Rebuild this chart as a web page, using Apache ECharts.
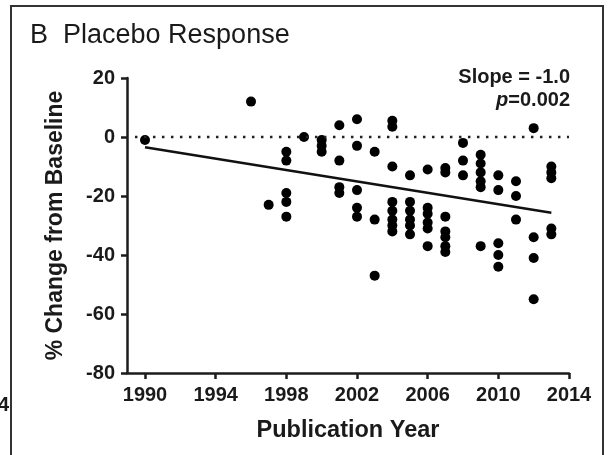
<!DOCTYPE html>
<html>
<head>
<meta charset="utf-8">
<script src="https://cdn.jsdelivr.net/npm/echarts@6/dist/echarts.min.js"></script>
<style>
html,body{margin:0;padding:0;background:#fff;}
#c{width:609px;height:455px;}
</style>
</head>
<body>
<div id="c"></div>
<script>
// ---- data ----
const years = [
  1990,
  1996,
  1997,
  1998,1998,1998,1998,1998,
  1999,
  2000,2000,2000,
  2001,2001,2001,2001,
  2002,2002,2002,2002,2002,
  2003,2003,2003,
  2004,2004,2004,2004,2004,2004,2004,2004,
  2005,2005,2005,2005,2005,2005,
  2006,2006,2006,2006,2006,2006,
  2007,2007,2007,2007,2007,2007,2007,
  2008,2008,2008,
  2009,2009,2009,2009,2009,2009,
  2010,2010,2010,2010,2010,
  2011,2011,2011,
  2012,2012,2012,2012,
  2013,2013,2013,2013,2013
];
const changes = [
  -1,
  12,
  -23,
  -5,-8,-19,-22,-27,
  0,
  -1,-3,-5,
  4,-8,-17,-19,
  6,-3,-18,-24,-27,
  -5,-28,-47,
  5.5,3.5,-10,-22,-25,-28,-30,-32,
  -13,-22,-25,-28,-30,-33,
  -11,-24,-26,-29,-31,-37,
  -10.5,-12,-27,-32,-34,-37,-39,
  -2,-8,-13,
  -6,-9,-12,-15,-17,-37,
  -13,-18,-36,-40,-44,
  -15,-20,-28,
  3,-34,-41,-55,
  -10,-12,-14,-31,-33
];
const fitYears = [1990, 2013];
const fitValues = [-3.5, -25.7];
const xTickMin = 1990, xTickMax = 2014, xTickStep = 4;
const yMin = -80, yMax = 20, yStep = 20;
const titleText = 'B  Placebo Response';
const slopeText = 'Slope = -1.0';
const pText = '0.002';

// ---- chart ----
const chart = echarts.init(document.getElementById('c'), null, {renderer:'canvas'});
const axisColor = '#1c1c1c';
const fontFam = '"Liberation Sans", Arial, sans-serif';

const scatterData = years.map((y,i)=>[y, changes[i]]);
const fitData = fitYears.map((y,i)=>[y, fitValues[i]]);

chart.setOption({
  animation:false,
  backgroundColor:'#fff',
  grid:[
    {left:127, right:40, top:78, bottom:82},
    {left:145, right:40, top:78, bottom:82}
  ],
  xAxis:[
    {gridIndex:0, type:'value', min:1989, max:xTickMax,
     axisLine:{show:true, onZero:false, lineStyle:{color:axisColor, width:2.5}},
     axisTick:{show:false}, axisLabel:{show:false}, splitLine:{show:false},
     name:'Publication Year', nameLocation:'middle', nameGap:46,
     nameTextStyle:{fontFamily:fontFam, fontWeight:'bold', fontSize:23.5, color:'#1a1a1a'}},
    {gridIndex:1, type:'value', min:xTickMin, max:xTickMax, interval:xTickStep,
     axisLine:{show:false, onZero:false},
     axisTick:{show:true, inside:false, length:6, lineStyle:{color:axisColor, width:2.5}},
     axisLabel:{show:true, margin:12, fontFamily:fontFam, fontWeight:'bold', fontSize:20, color:'#1a1a1a',
       formatter:(v)=>String(v)},
     splitLine:{show:false}}
  ],
  yAxis:[
    {gridIndex:0, type:'value', min:yMin, max:yMax, interval:yStep,
     axisLine:{show:true, onZero:false, lineStyle:{color:axisColor, width:2.5}},
     axisTick:{show:true, inside:false, length:6, lineStyle:{color:axisColor, width:2.5}},
     axisLabel:{show:true, margin:12, fontFamily:fontFam, fontWeight:'bold', fontSize:20, color:'#1a1a1a'},
     splitLine:{show:false},
     name:'% Change from Baseline', nameLocation:'middle', nameGap:60,
     nameTextStyle:{fontFamily:fontFam, fontWeight:'bold', fontSize:23, color:'#1a1a1a'}},
    {gridIndex:1, type:'value', min:yMin, max:yMax, interval:yStep, show:false}
  ],
  series:[
    {type:'line', xAxisIndex:0, yAxisIndex:0, data:[[1989.45,0],[xTickMax,0]],
     symbol:'none', silent:true,
     lineStyle:{color:'#222', width:2.5, type:[2.5,6.5]}},
    {type:'line', xAxisIndex:1, yAxisIndex:1, data:fitData, symbol:'none',
     lineStyle:{color:'#111', width:2.5}},
    {type:'scatter', xAxisIndex:1, yAxisIndex:1, data:scatterData, symbolSize:10,
     clip:false, itemStyle:{color:'#000', opacity:1}}
  ],
  graphic:[
    {type:'rect', shape:{x:11, y:6, width:592, height:470},
     style:{fill:null, stroke:'#333', lineWidth:2}, silent:true},
    {type:'text', left:30, top:22,
     style:{text:titleText, font:'27px '+fontFam, fill:'#1a1a1a'}},
    {type:'text', x:570, y:77,
     style:{text:slopeText, font:'bold 20px '+fontFam, fill:'#1a1a1a', textAlign:'right', textVerticalAlign:'middle'}},
    {type:'text', x:570, y:100,
     style:{text:'{i|p}={n|'+pText+'}', textAlign:'right', textVerticalAlign:'middle',
       rich:{i:{font:'italic bold 20px '+fontFam, fill:'#1a1a1a'}, n:{font:'bold 20px '+fontFam, fill:'#1a1a1a'}},
       font:'bold 20px '+fontFam, fill:'#1a1a1a'}},
    {type:'text', x:9, y:405,
     style:{text:'4', font:'bold 20px '+fontFam, fill:'#1a1a1a', textAlign:'right', textVerticalAlign:'middle'}}
  ]
});
</script>
</body>
</html>
